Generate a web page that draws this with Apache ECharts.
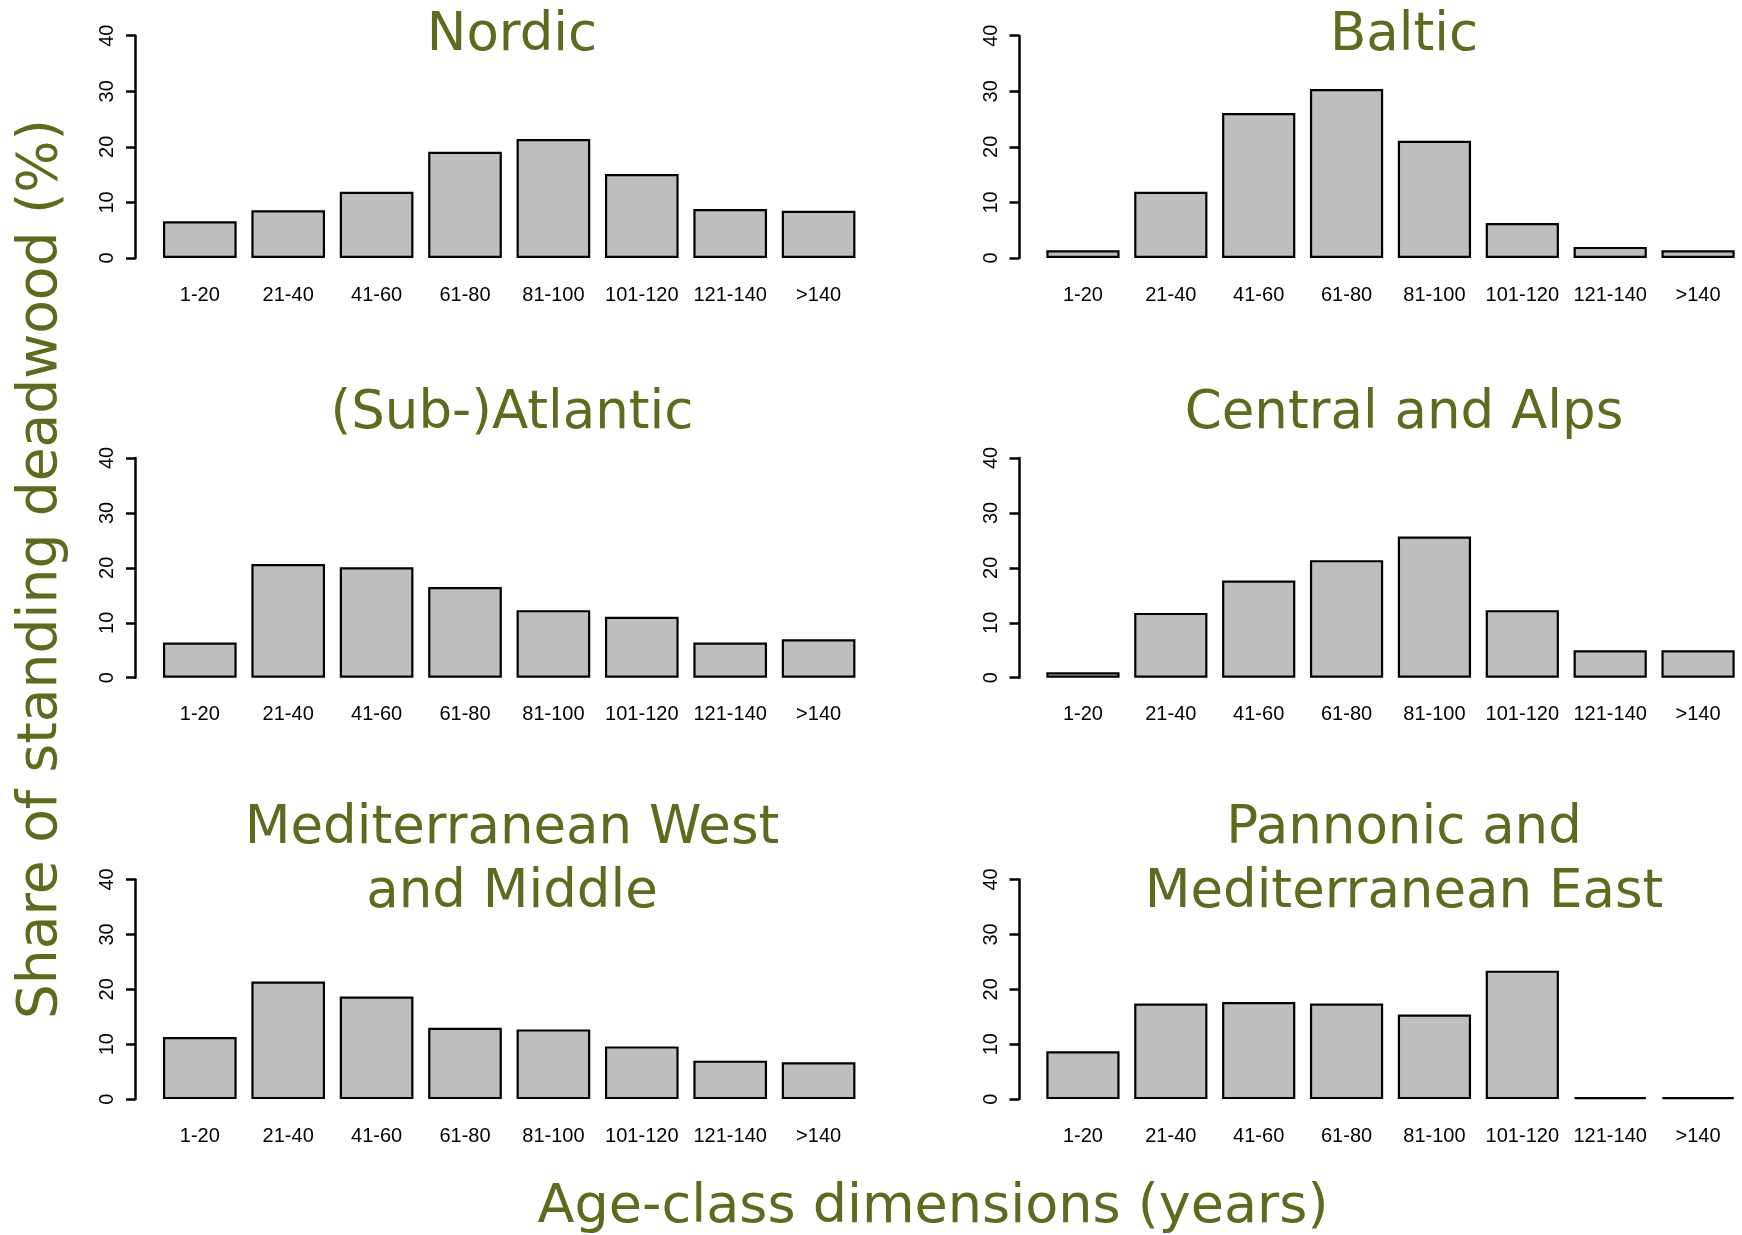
<!DOCTYPE html>
<html>
<head>
<meta charset="utf-8">
<script src="https://cdn.jsdelivr.net/npm/echarts@6/dist/echarts.min.js"></script>
<style>
  html, body { margin: 0; padding: 0; background: #ffffff; }
  #chart { width: 1742px; height: 1235px; }
</style>
</head>
<body>
<div id="chart"></div>
<script>
// Age classes (years) shared by every region
const ageClasses = ['1-20', '21-40', '41-60', '61-80', '81-100', '101-120', '121-140', '>140'];

// Share of standing deadwood (%) per age class, one list per region
const nordic      = [6.6, 8.6, 11.9, 19.1, 21.4, 15.1, 8.8, 8.5];
const baltic      = [1.4, 11.9, 26.1, 30.4, 21.1, 6.3, 2.0, 1.4];
const subAtlantic = [6.4, 20.7, 20.1, 16.5, 12.3, 11.1, 6.4, 7.0];
const centralAlps = [1.0, 11.8, 17.7, 21.4, 25.7, 12.3, 5.0, 5.0];
const medWest     = [11.3, 21.4, 18.7, 13.0, 12.7, 9.6, 7.0, 6.7];
const pannonicEast = [8.7, 17.4, 17.7, 17.4, 15.4, 23.4, 0.35, 0.35];

// Y axis scale
const yMin = 0, yMax = 40, yStep = 10;

// Panel titles (lines)
const panelTitles = [
  ['Nordic'],
  ['Baltic'],
  ['(Sub-)Atlantic'],
  ['Central and Alps'],
  ['Mediterranean West', 'and Middle'],
  ['Pannonic and', 'Mediterranean East']
];
const panelData = [nordic, baltic, subAtlantic, centralAlps, medWest, pannonicEast];

const xAxisTitle = 'Age-class dimensions (years)';
const yAxisTitle = 'Share of standing deadwood (%)';

// Layout
const titleColor = '#5c6b1e';
const fontStack = '"DejaVu Sans", Verdana, sans-serif';
const titleFont = '53px ' + fontStack;
const colLeft = [155.6, 1039];      // left edge of the category bands
const axisX = [135.5, 1019];        // where the y axis line sits
const bandsWidth = 707.2;
const rowTop = [35.7, 458, 879.5];
const rowHeight = [222.3, 219.7, 219.6];
const titleCx = [512, 1404];
const titleCy = [[36], [414], [829.5, 893]];

const grids = [], xAxes = [], yAxes = [], series = [], graphics = [];

panelData.forEach((vals, i) => {
  const col = i % 2, row = Math.floor(i / 2);
  grids.push({
    left: colLeft[col], top: rowTop[row],
    width: bandsWidth, height: rowHeight[row],
    containLabel: false
  });
  xAxes.push({
    type: 'category', gridIndex: i, data: ageClasses,
    boundaryGap: true,
    axisLine: { show: false }, axisTick: { show: false },
    axisLabel: {
      interval: 0, margin: 27, color: '#000',
      fontFamily: '"Liberation Sans", Arial, sans-serif', fontSize: 20
    },
    splitLine: { show: false }
  });
  yAxes.push({
    type: 'value', gridIndex: i, min: yMin, max: yMax, interval: yStep,
    offset: colLeft[col] - axisX[col],
    axisLine: { show: true, lineStyle: { color: '#000', width: 2.5 } },
    axisTick: { show: true, length: 9.5, lineStyle: { color: '#000', width: 2.5 } },
    axisLabel: {
      rotate: 90, margin: 18, color: '#000',
      fontFamily: '"Liberation Sans", Arial, sans-serif', fontSize: 20
    },
    splitLine: { show: false }
  });
  series.push({
    type: 'bar', xAxisIndex: i, yAxisIndex: i, data: vals,
    barWidth: '83.33%',
    itemStyle: { color: '#bebebe', borderColor: '#000', borderWidth: 2.2 },
    emphasis: { disabled: true },
    silent: true,
    animation: false
  });
  panelTitles[i].forEach((line, k) => {
    graphics.push({
      type: 'text', x: titleCx[col], y: titleCy[row][k],
      style: {
        text: line, font: titleFont, fill: titleColor,
        align: 'center', verticalAlign: 'middle'
      }
    });
  });
});

// Shared axis titles
graphics.push({
  type: 'text', x: 933, y: 1208,
  style: { text: xAxisTitle, font: '54px ' + fontStack, fill: titleColor, align: 'center', verticalAlign: 'middle' }
});
graphics.push({
  type: 'text', x: 42, y: 569, rotation: Math.PI / 2,
  style: { text: yAxisTitle, font: '55px ' + fontStack, fill: titleColor, align: 'center', verticalAlign: 'middle' }
});

const chart = echarts.init(document.getElementById('chart'), null, { renderer: 'canvas' });
chart.setOption({
  animation: false,
  backgroundColor: '#ffffff',
  grid: grids,
  xAxis: xAxes,
  yAxis: yAxes,
  series: series,
  graphic: graphics
});
</script>
</body>
</html>
